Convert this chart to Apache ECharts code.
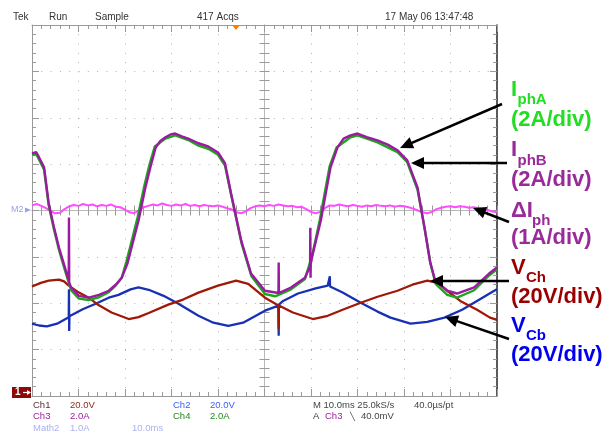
<!DOCTYPE html>
<html><head><meta charset="utf-8">
<script src="https://cdn.jsdelivr.net/npm/echarts@6/dist/echarts.min.js"></script>
<style>html,body{margin:0;padding:0;background:#fff}#c{width:607px;height:432px}</style>
</head><body><div id="c"></div>
<script>
// Time axis in ms (10 ms/div, 10 divisions), vertical axis in divisions (-4..4)
const timeRange = [0, 100];
const divRange = [-4, 4];

// Ch3: phase current B (purple)
const iphB = [[0,1.23],[0.9,1.26],[1.5,1.15],[2.6,0.93],[3.6,0.15],[4.7,-0.35],[5.8,-0.80],[7.3,-1.30],[7.9,-1.50],[7.95,-0.15],[8.0,-1.55],[8.4,-1.66],[10.1,-1.84],[12.2,-1.88],[14.4,-1.82],[16.5,-1.73],[18,-1.60],[19.3,-1.45],[20.5,-1.15],[21.4,-0.80],[22.9,-0.22],[24.4,0.50],[25.5,0.95],[26.6,1.36],[27.6,1.50],[28.7,1.58],[29.8,1.64],[30.8,1.66],[32.2,1.60],[33.6,1.55],[35.8,1.45],[37.9,1.38],[40,1.25],[41.5,1.02],[42.8,0.37],[45,-0.65],[47.1,-1.36],[50.1,-1.73],[53.0,-1.78],[53.05,-1.12],[53.1,-1.78],[55.7,-1.66],[58.7,-1.45],[59.8,-1.20],[59.85,-0.37],[59.9,-1.45],[59.95,-1.15],[60.4,-0.93],[62.1,-0.22],[64.2,0.93],[65.7,1.36],[67,1.55],[68.5,1.62],[70,1.66],[72,1.58],[74.3,1.51],[76.5,1.42],[78.6,1.30],[80.7,1.08],[82.9,0.50],[84.4,-0.37],[85.6,-1.10],[86.7,-1.51],[89.3,-1.73],[91.4,-1.79],[95.1,-1.66],[98.3,-1.36],[100,-1.23]];

// Ch4: phase current A (green)
const iphA = [[0,1.20],[0.9,1.22],[1.5,1.10],[2.6,0.88],[3.6,0.10],[4.7,-0.40],[5.8,-0.85],[7.3,-1.36],[8.4,-1.72],[10.1,-1.90],[12.2,-1.93],[14.4,-1.87],[16.5,-1.76],[18,-1.62],[19.3,-1.45],[20.3,-1.10],[21.2,-0.75],[22.7,-0.15],[24.2,0.55],[25.3,1.00],[26.4,1.38],[28.7,1.55],[30.8,1.62],[33.6,1.52],[35.8,1.40],[37.9,1.33],[40,1.20],[41.5,0.97],[42.9,0.30],[45.1,-0.72],[47.2,-1.42],[50.1,-1.80],[52.3,-1.85],[55.7,-1.70],[58.7,-1.48],[60.3,-0.95],[61.9,-0.20],[64,0.95],[65.5,1.36],[68.5,1.58],[70,1.62],[74.3,1.47],[78.6,1.26],[80.7,1.04],[82.9,0.45],[84.5,-0.42],[85.7,-1.15],[86.8,-1.58],[89.3,-1.82],[91.4,-1.88],[95.1,-1.72],[98.3,-1.40],[100,-1.27]];

// Math2: current difference (magenta)
const dIph = [[0,0.11],[1,0.14],[2,0.10],[3,0.05],[4,-0.01],[5,-0.06],[6,-0.05],[7,0.03],[8,0.09],[9,0.12],[10,0.10],[11,0.14],[12,0.11],[13,0.13],[14,0.09],[15,0.12],[16,0.10],[17,0.13],[18,0.08],[19,0.07],[20,0.02],[21,-0.04],[22,-0.06],[23,0.01],[24,0.07],[25,0.10],[26,0.13],[27,0.11],[28,0.15],[29,0.12],[30,0.10],[31,0.13],[32,0.11],[33,0.14],[34,0.10],[35,0.12],[36,0.09],[37,0.12],[38,0.10],[39,0.09],[40,0.11],[41,0.08],[42,0.05],[43,0.02],[44,-0.04],[45,-0.06],[46,-0.02],[47,0.05],[48,0.09],[49,0.11],[50,0.09],[51,0.12],[52,0.10],[53,0.13],[54,0.11],[55,0.09],[56,0.10],[57,0.07],[58,0.08],[59,0.03],[60,-0.03],[61,-0.06],[62,-0.03],[63,0.05],[64,0.11],[65,0.10],[66,0.13],[67,0.11],[68,0.09],[69,0.12],[70,0.10],[71,0.08],[72,0.11],[73,0.09],[74,0.12],[75,0.10],[76,0.09],[77,0.11],[78,0.08],[79,0.10],[80,0.09],[81,0.07],[82,0.04],[83,0.00],[84,-0.04],[85,-0.06],[86,-0.03],[87,0.03],[88,0.06],[89,0.08],[90,0.09],[91,0.07],[92,0.09],[93,0.08],[94,0.06],[95,0.07],[96,0.05],[97,0.03],[98,0.01],[99,-0.02],[100,-0.04]];

// Ch1: capacitor voltage high side (dark red)
const vCh = [[0,-1.64],[1.9,-1.56],[3.6,-1.51],[5.8,-1.49],[6.9,-1.53],[7.9,-1.62],[10.1,-1.77],[12.2,-1.88],[14.3,-2.04],[17.1,-2.20],[20.8,-2.34],[22.9,-2.30],[25.1,-2.21],[29.3,-2.03],[32.5,-1.92],[35.8,-1.77],[40,-1.62],[43.9,-1.51],[46.5,-1.58],[50.1,-1.88],[53.0,-2.05],[53.05,-2.55],[53.1,-2.05],[56.1,-2.20],[60.4,-2.34],[63.6,-2.27],[66.8,-2.14],[70.7,-1.99],[74.3,-1.86],[78.6,-1.73],[81.8,-1.60],[85,-1.51],[87.2,-1.56],[89.3,-1.73],[92.1,-1.95],[95.7,-2.14],[98.5,-2.31],[100,-2.36]];

// Ch2: capacitor voltage bottom side (blue)
const vCb = [[0,-2.44],[1.5,-2.48],[3.2,-2.50],[5.4,-2.44],[7.9,-2.30],[7.95,-1.70],[8.0,-2.60],[8.05,-2.28],[10.9,-2.13],[13.7,-2.01],[16.5,-1.88],[18.6,-1.82],[21.2,-1.70],[22.9,-1.66],[25.1,-1.71],[28.3,-1.84],[31.5,-2.01],[35.8,-2.27],[39,-2.42],[42.2,-2.49],[45.4,-2.42],[50.1,-2.16],[53.0,-2.05],[53.05,-2.70],[53.1,-2.03],[54,-1.95],[57.2,-1.79],[61,-1.68],[63.6,-1.62],[64.0,-1.62],[64.05,-1.42],[64.1,-1.64],[66.8,-1.77],[70.7,-1.99],[74.3,-2.18],[77.1,-2.31],[81.4,-2.44],[85,-2.40],[88.7,-2.31],[92.5,-2.14],[95.7,-1.95],[99.4,-1.73],[100,-1.70]];

const headerTexts = ['Tek', 'Run', 'Sample', '417 Acqs', '17 May 06 13:47:48'];
const labelNames = [['I','phA','(2A/div)'],['I','phB','(2A/div)'],['ΔI','ph','(1A/div)'],['V','Ch','(20V/div)'],['V','Cb','(20V/div)']];

const GL = 32, GT = 25, GW = 465, GH = 371;
const gc = '#9a9a9a';
const FONT = '"Liberation Sans", Arial, sans-serif';

function borderX(pos, split) {
  return {gridIndex:0, type:'value', position:pos, min:timeRange[0], max:timeRange[1], interval:10,
    axisLine:{show:true, onZero:false, lineStyle:{color:gc, width:1}},
    axisTick:{show:true, inside:true, length:7, lineStyle:{color:gc}},
    minorTick:{show:true, splitNumber:5, length:4, lineStyle:{color:gc}},
    axisLabel:{show:false},
    splitLine:{show:split, lineStyle:{color:'#b0b0b0', width:1, type:[1,8.28]}}};
}
function borderY(pos, split, col, w) {
  return {gridIndex:0, type:'value', position:pos, min:divRange[0], max:divRange[1], interval:1,
    axisLine:{show:true, onZero:false, lineStyle:{color:col, width:w}},
    axisTick:{show:true, inside:true, length:7, lineStyle:{color:gc}},
    minorTick:{show:true, splitNumber:5, length:4, lineStyle:{color:gc}},
    axisLabel:{show:false},
    splitLine:{show:split, lineStyle:{color:'#b0b0b0', width:1, type:[1,8.3]}}};
}
function centerX(gi, pos) {
  return {gridIndex:gi, type:'value', position:pos, min:timeRange[0], max:timeRange[1], interval:10,
    axisLine:{show:true, onZero:false, lineStyle:{color:'#b8b8b8', width:1}},
    axisTick:{show:true, inside:true, length:5, lineStyle:{color:gc}},
    minorTick:{show:true, splitNumber:5, length:5, lineStyle:{color:gc}},
    axisLabel:{show:false}, splitLine:{show:false}};
}
function centerY(gi, pos) {
  return {gridIndex:gi, type:'value', position:pos, min:divRange[0], max:divRange[1], interval:1,
    axisLine:{show:true, onZero:false, lineStyle:{color:'#b8b8b8', width:1}},
    axisTick:{show:true, inside:true, length:5, lineStyle:{color:gc}},
    minorTick:{show:true, splitNumber:5, length:5, lineStyle:{color:gc}},
    axisLabel:{show:false}, splitLine:{show:false}};
}
function hidden(gi) {
  return {gridIndex:gi, type:'value', show:false, min:0, max:1, axisLine:{onZero:false}};
}

function arrow(x1,y1,x2,y2){
  const dx=x2-x1, dy=y2-y1, L=Math.hypot(dx,dy), ux=dx/L, uy=dy/L;
  const hl=13, hw=6;
  const bx=x2-ux*hl, by=y2-uy*hl;
  return [
    {type:'line', z:100, shape:{x1:x1,y1:y1,x2:bx+ux*2,y2:by+uy*2}, style:{stroke:'#000', lineWidth:2.5}},
    {type:'polygon', z:100, shape:{points:[[x2,y2],[bx-uy*hw,by+ux*hw],[bx+uy*hw,by-ux*hw]]}, style:{fill:'#000'}}
  ];
}
function txt(x, y, s, color, size, bold) {
  return {type:'text', z:100, x:x, y:y, style:{text:s, fill:color, font:(bold?'bold ':'')+size+'px '+FONT, align:'left', verticalAlign:'middle'}};
}
function label(idx, x, yMain, subDx, ySub, y2, color){
  const n = labelNames[idx];
  return [txt(x, yMain, n[0], color, 22, true), txt(x+subDx, ySub, n[1], color, 15, true), txt(x, y2, n[2], color, 22, true)];
}

const graphics = [].concat(
  txt(13, 17, headerTexts[0], '#333', 10),
  txt(49, 17, headerTexts[1], '#333', 10),
  txt(95, 17, headerTexts[2], '#333', 10),
  txt(197, 17, headerTexts[3], '#333', 10),
  txt(385, 17, headerTexts[4], '#333', 10),
  [{type:'polygon', z:100, shape:{points:[[232,25],[240,25],[236,30]]}, style:{fill:'#ff7a00'}}],
  txt(11, 210, 'M2', '#9aa2ee', 9),
  [{type:'polygon', z:100, shape:{points:[[25,207.5],[31,210],[25,212.5]]}, style:{fill:'#9aa2ee'}}],
  [{type:'rect', z:100, shape:{x:12, y:387, width:19, height:11}, style:{fill:'#8b0a0a'}}],
  txt(15, 392.5, '1', '#fff', 10, true),
  [{type:'line', z:101, shape:{x1:23, y1:392.5, x2:29, y2:392.5}, style:{stroke:'#fff', lineWidth:1.2}},
   {type:'polygon', z:101, shape:{points:[[27,390],[31,392.5],[27,395]]}, style:{fill:'#fff'}}],
  // footer
  txt(33, 405, 'Ch1', '#5a3030', 9.5), txt(70, 405, '20.0V', '#8b2a1a', 9.5),
  txt(173, 405, 'Ch2', '#3a5cff', 9.5), txt(210, 405, '20.0V', '#3a5cff', 9.5),
  txt(313, 405, 'M 10.0ms 25.0kS/s', '#444', 9.5), txt(414, 405, '40.0\u00b5s/pt', '#444', 9.5),
  txt(33, 416.5, 'Ch3', '#a020a0', 9.5), txt(70, 416.5, '2.0A', '#a020a0', 9.5),
  txt(173, 416.5, 'Ch4', '#228822', 9.5), txt(210, 416.5, '2.0A', '#228822', 9.5),
  txt(313, 416.5, 'A', '#444', 9.5), txt(325, 416.5, 'Ch3', '#a020a0', 9.5),
  txt(350, 416.5, '\u2572', '#444', 8), txt(361, 416.5, '40.0mV', '#444', 9.5),
  txt(33, 428, 'Math2', '#aab2ee', 9.5), txt(70, 428, '1.0A', '#aab2ee', 9.5), txt(132, 428, '10.0ms', '#aab2ee', 9.5),
  // annotation labels
  label(0, 511, 90, 6.5, 100, 120, '#22dd22'),
  label(1, 511, 150, 6.5, 161, 180, '#9a2a9a'),
  label(2, 511, 211, 21, 221, 238, '#9a2a9a'),
  label(3, 511, 268, 15, 278, 297, '#990000'),
  label(4, 511, 326, 15, 336, 355, '#0000ee'),
  // arrows
  arrow(502,104,400,148),
  arrow(507,163,411,163),
  arrow(509,222,473,208),
  arrow(509,281,430,281),
  arrow(509,339,445,317)
);

function ser(name, data, color, w, z) {
  return {name:name, type:'line', xAxisIndex:0, yAxisIndex:0, data:data, showSymbol:false, symbol:'none',
    lineStyle:{color:color, width:w}, z:z, animation:false, silent:true};
}

const option = {
  backgroundColor:'#ffffff',
  animation:false,
  grid:[
    {left:GL, top:GT, width:GW, height:GH},
    {left:GL, top:GT, width:GW, height:GH/2},
    {left:GL, top:GT+GH/2, width:GW, height:GH/2},
    {left:GL, top:GT, width:GW/2, height:GH},
    {left:GL+GW/2, top:GT, width:GW/2, height:GH}
  ],
  xAxis:[borderX('bottom', true), borderX('top', false), centerX(1,'bottom'), centerX(2,'top'), hidden(3), hidden(4)],
  yAxis:[borderY('left', true, gc, 1), borderY('right', false, '#222', 1.5), hidden(1), hidden(2), centerY(3,'right'), centerY(4,'left')],
  series:[
    ser('ΔIph', dIph, '#ff4cff', 2, 3),
    ser('VCb', vCb, '#1830b4', 2.3, 4),
    ser('VCh', vCh, '#a01808', 2.3, 5),
    ser('IphA', iphA, '#1aa81a', 2.4, 6),
    ser('IphB', iphB, '#9a1aa0', 2.4, 7)
  ],
  graphic: graphics
};
const chart = echarts.init(document.getElementById('c'), null, {renderer:'canvas'});
chart.setOption(option);
</script></body></html>
